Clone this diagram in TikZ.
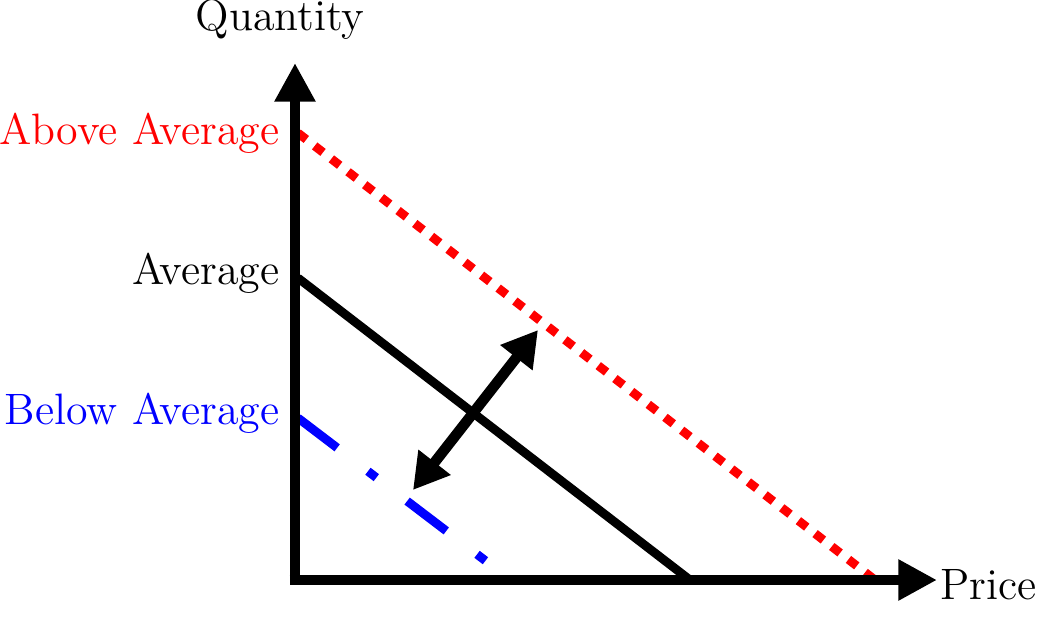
\documentclass[tikz,border=0pt]{standalone}
\usetikzlibrary{arrows.meta}
\begin{document}
\begin{tikzpicture}[x=0.01cm,y=0.01cm,
  axis/.style={line width=3pt,-{Triangle[length=11pt,width=11pt]}},
  curve/.style={line width=2.5pt},
  lbl/.style={font=\fontsize{12.5}{15}\selectfont,anchor=east,inner sep=0pt}]
\useasboundingbox (0,0) rectangle (1050,623);

\coordinate (origin) at (295,43);
\coordinate (ytop) at (295,560);
\coordinate (xend) at (937,43);

% shifts of demand
\draw[curve,red,dash pattern=on 3pt off 3pt] (298,490) -- (875,43);
\draw[curve] (298,345) -- (690,43);
\draw[curve,blue,dash pattern=on 14pt off 11pt on 3pt off 11pt] (298,205) -- (495,55);

\draw[axis] (origin) -- (ytop);
\draw[axis] ([xshift=-1.5pt]origin) -- (xend);

\node[lbl,anchor=center] (qty) at (280,603) {Quantity};
\node[lbl,anchor=west] (price) at (940,38) {Price};
\node[lbl,red] (above) at (280,490) {Above Average};
\node[lbl] (avg) at (280,350) {Average};
\node[lbl,blue] (below) at (280,210) {Below Average};

\coordinate (lo) at (413,133);
\coordinate (hi) at (538,293);
\draw[line width=3pt,{Triangle[length=10pt,width=11pt]}-{Triangle[length=10pt,width=11pt]}] (lo) -- (hi);
\end{tikzpicture}
\end{document}
